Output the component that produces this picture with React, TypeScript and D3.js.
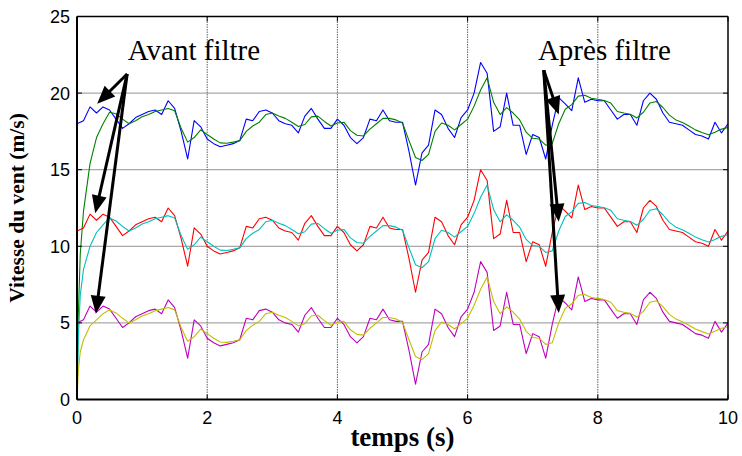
import React from "react";
import * as d3 from "d3";

// sampling times (s)
const timeRaw: number[] = d3.range(0, 101).map((i) => i / 10);
const timeFilt: number[] = [0, 0.02, 0.05, ...timeRaw.slice(1)];

// raw wind speeds ("Avant filtre")
const rawBlue = [18.0,18.2,19.1,18.7,19.1,18.9,18.3,17.7,18.0,18.4,18.6, 18.8,18.9,18.6,19.5,19.0,17.5,15.7,18.2,17.8,17.0, 16.7,16.5,16.6,16.7,16.9,18.3,18.2,18.8,18.9,18.7, 18.2,18.0,17.9,17.4,18.5,19.0,18.3,17.7,17.7,18.3, 17.9,17.1,16.7,17.1,18.3,18.2,18.9,18.2,18.1,18.1, 16.2,14.0,16.1,16.6,18.9,18.6,17.7,17.1,18.4,18.9, 20.0,22.0,21.3,17.5,17.8,20.0,17.9,17.9,16.0,17.3, 17.1,15.7,17.9,19.7,19.3,18.85,21.0,19.4,19.6,19.5, 19.5,18.9,18.3,18.6,18.6,17.9,19.5,20.0,19.6,18.7, 18.1,18.0,17.9,17.6,17.3,17.2,17.0,18.1,17.4,18.0];
const rawRed = [11.0,11.2,12.1,11.7,12.1,11.9,11.3,10.7,11.0,11.4,11.6, 11.8,11.9,11.6,12.5,12.0,10.5,8.7,11.2,10.8,10.0, 9.7,9.5,9.6,9.7,9.9,11.3,11.2,11.8,11.9,11.7, 11.2,11.0,10.9,10.4,11.5,12.0,11.3,10.7,10.7,11.3, 10.9,10.1,9.7,10.1,11.3,11.2,11.9,11.2,11.1,11.1, 9.2,7.0,9.1,9.6,11.9,11.6,10.7,10.1,11.4,11.9, 13.0,15.0,14.3,10.5,10.8,13.0,10.9,10.9,9.0,10.3, 10.1,8.7,10.9,12.7,12.3,11.85,14.0,12.4,12.6,12.5, 12.5,11.9,11.3,11.6,11.6,10.9,12.5,13.0,12.6,11.7, 11.1,11.0,10.9,10.6,10.3,10.2,10.0,11.1,10.4,11.0];
const rawMagenta = [5.0,5.2,6.1,5.7,6.1,5.9,5.3,4.7,5.0,5.4,5.6, 5.8,5.9,5.6,6.5,6.0,4.5,2.7,5.2,4.8,4.0, 3.7,3.5,3.6,3.7,3.9,5.3,5.2,5.8,5.9,5.7, 5.2,5.0,4.9,4.4,5.5,6.0,5.3,4.7,4.7,5.3, 4.9,4.1,3.7,4.1,5.3,5.2,5.9,5.2,5.1,5.1, 3.2,1.0,3.1,3.6,5.9,5.6,4.7,4.1,5.4,5.9, 7.0,9.0,8.3,4.5,4.8,7.0,4.9,4.9,3.0,4.3, 4.1,2.7,4.9,6.7,6.3,5.85,8.0,6.4,6.6,6.5, 6.5,5.9,5.3,5.6,5.6,4.9,6.5,7.0,6.6,5.7, 5.1,5.0,4.9,4.6,4.3,4.2,4.0,5.1,4.4,5.0];

// filtered wind speeds ("Après filtre")
const filtGreen = [0,5.5,9.5, 12.3,15.4,17.1,18.0,18.75,18.65,18.3,18.0,18.2,18.45, 18.6,18.8,18.9,19.0,18.85,17.7,16.8,17.1,17.6,17.3, 17.0,16.75,16.73,16.8,16.9,17.5,17.85,18.1,18.6,18.7, 18.5,18.35,18.1,17.82,17.95,18.45,18.5,18.15,17.85,18.05, 18.1,17.55,17.25,17.2,17.65,18.0,18.35,18.35,18.25,18.05, 16.9,15.8,15.6,16.0,17.5,18.05,17.9,17.6,17.95,18.3, 19.15,20.2,21.0,19.4,18.6,19.05,18.7,18.25,17.45,17.05, 17.0,16.6,16.7,18.0,18.95,19.25,19.8,19.86,19.66,19.6, 19.52,19.35,18.8,18.7,18.62,18.38,18.75,19.35,19.45,19.06, 18.56,18.25,18.08,17.85,17.6,17.43,17.28,17.45,17.65,17.75];
const filtCyan = [0,4.0,6.8, 8.5,10.0,10.9,11.4,11.85,11.65,11.3,11.0,11.2,11.45, 11.6,11.8,11.9,12.0,11.85,10.7,9.8,10.1,10.6,10.3, 10.0,9.75,9.73,9.8,9.9,10.5,10.85,11.1,11.6,11.7, 11.5,11.35,11.1,10.82,10.95,11.45,11.5,11.15,10.85,11.05, 11.1,10.55,10.25,10.2,10.65,11.0,11.35,11.35,11.25,11.05, 9.9,8.8,8.6,9.0,10.5,11.05,10.9,10.6,10.95,11.3, 12.15,13.2,14.0,12.4,11.6,12.05,11.7,11.25,10.45,10.05, 10.0,9.6,9.7,11.0,11.95,12.25,12.8,12.86,12.66,12.6, 12.52,12.35,11.8,11.7,11.62,11.38,11.75,12.35,12.45,12.06, 11.56,11.25,11.08,10.85,10.6,10.43,10.28,10.45,10.65,10.75];
const filtYellow = [0,1.9,3.1, 3.9,4.8,5.2,5.6,5.85,5.65,5.3,5.0,5.2,5.45, 5.6,5.8,5.9,6.0,5.85,4.7,3.8,4.1,4.6,4.3, 4.0,3.75,3.73,3.8,3.9,4.5,4.85,5.1,5.6,5.7, 5.5,5.35,5.1,4.82,4.95,5.45,5.5,5.15,4.85,5.05, 5.1,4.55,4.25,4.2,4.65,5.0,5.35,5.35,5.25,5.05, 3.9,2.8,2.6,3.0,4.5,5.05,4.9,4.6,4.95,5.3, 6.15,7.2,8.0,6.4,5.6,6.05,5.7,5.25,4.45,4.05, 4.0,3.6,3.7,5.0,5.95,6.25,6.8,6.86,6.66,6.6, 6.52,6.35,5.8,5.7,5.62,5.38,5.75,6.35,6.45,6.06, 5.56,5.25,5.08,4.85,4.6,4.43,4.28,4.45,4.65,4.75];

const xTicks = [0, 2, 4, 6, 8, 10];
const yTicks = [0, 5, 10, 15, 20, 25];

// annotations in data coordinates
const avantLabel = { text: "Avant filtre", t: 0.78, v: 22.15 };
const apresLabel = { text: "Après filtre", t: 7.08, v: 22.15 };
const avantTail = { t: 0.77, v: 21.25 };
const avantTips = [ { t: 0.31, v: 19.3 }, { t: 0.28, v: 12.15 }, { t: 0.29, v: 5.6 } ];
const apresTail = { t: 7.17, v: 21.5 };
const apresTips = [ { t: 7.4, v: 18.6 }, { t: 7.4, v: 11.6 }, { t: 7.4, v: 5.65 } ];

const W = 742, H = 456;

export default function App() {
  const x = d3.scaleLinear().domain([0, 10]).range([77, 728]);
  const y = d3.scaleLinear().domain([0, 25]).range([399.5, 16.5]);
  const mk = (ts: number[], vs: number[]) =>
    d3.line<number>().x((_, i) => x(ts[i])).y((v) => y(v))(vs) || "";

  const series = [
    { t: timeRaw, v: rawBlue, c: "#0000ff" },
    { t: timeFilt, v: filtGreen, c: "#008000" },
    { t: timeRaw, v: rawRed, c: "#ff0000" },
    { t: timeFilt, v: filtCyan, c: "#00bfbf" },
    { t: timeRaw, v: rawMagenta, c: "#bf00bf" },
    { t: timeFilt, v: filtYellow, c: "#bfbf00" },
  ];

  const arrow = (tail: { t: number; v: number }, tip: { t: number; v: number }, key: string) => {
    const x1 = x(tail.t), y1 = y(tail.v), x2 = x(tip.t), y2 = y(tip.v);
    const dx = x2 - x1, dy = y2 - y1, len = Math.hypot(dx, dy);
    const ux = dx / len, uy = dy / len, nx = -uy, ny = ux;
    const L = 18, w = 7.5;
    const bx = x2 - ux * L, by = y2 - uy * L;
    return (
      <g key={key}>
        <line x1={x1} y1={y1} x2={bx + ux * 2} y2={by + uy * 2} stroke="#000" strokeWidth={3} />
        <polygon points={`${x2},${y2} ${bx + nx * w},${by + ny * w} ${bx - nx * w},${by - ny * w}`} fill="#000" />
      </g>
    );
  };

  const [x0, x1] = x.range();
  const [y0, y1] = y.range();

  return (
    <svg width={W} height={H} style={{ position: "absolute", left: 0, top: 0, background: "#fff" }}>
      <rect x={0} y={0} width={W} height={H} fill="#fff" />
      {/* grid */}
      {yTicks.slice(1, -1).map((t) => (
        <line key={"gy" + t} x1={x0} x2={x1} y1={y(t)} y2={y(t)} stroke="#a8a8a8" strokeWidth={1.3} />
      ))}
      {xTicks.slice(1, -1).map((t) => (
        <line key={"gx" + t} x1={x(t)} x2={x(t)} y1={y1} y2={y0} stroke="#606060" strokeWidth={1} strokeDasharray="1.5,1" />
      ))}
      {/* series */}
      {series.map((s, i) => (
        <path key={i} d={mk(s.t, s.v)} fill="none" stroke={s.c} strokeWidth={1.1} strokeLinejoin="round" />
      ))}
      {/* axes box */}
      <line x1={x0} x2={x1} y1={y1} y2={y1} stroke="#000" strokeWidth={1.5} />
      <line x1={x1} x2={x1} y1={y1} y2={y0} stroke="#000" strokeWidth={1.5} />
      <line x1={x0} x2={x1} y1={y0} y2={y0} stroke="#000" strokeWidth={2} />
      <line x1={x0} x2={x0} y1={y1} y2={y0} stroke="#000" strokeWidth={2} />
      {/* ticks */}
      {xTicks.map((t) => (
        <g key={"tx" + t}>
          <line x1={x(t)} x2={x(t)} y1={y0} y2={y0 - 5} stroke="#000" strokeWidth={1} />
          <line x1={x(t)} x2={x(t)} y1={y1} y2={y1 + 5} stroke="#000" strokeWidth={1} />
          <text x={x(t)} y={y0 + 24} textAnchor="middle" fontFamily="Liberation Sans, Arial, sans-serif" fontSize={18} fill="#000">{t}</text>
        </g>
      ))}
      {yTicks.map((t) => (
        <g key={"ty" + t}>
          <line x1={x0} x2={x0 + 5} y1={y(t)} y2={y(t)} stroke="#000" strokeWidth={1} />
          <line x1={x1} x2={x1 - 5} y1={y(t)} y2={y(t)} stroke="#000" strokeWidth={1} />
          <text x={x0 - 7} y={y(t) + 6.5} textAnchor="end" fontFamily="Liberation Sans, Arial, sans-serif" fontSize={18} fill="#000">{t}</text>
        </g>
      ))}
      {/* axis labels */}
      <text x={(x0 + x1) / 2} y={446} textAnchor="middle" fontFamily="Liberation Serif, Times New Roman, serif" fontWeight="bold" fontSize={27} fill="#000">temps (s)</text>
      <text transform={`translate(24,${(y0 + y1) / 2}) rotate(-90)`} textAnchor="middle" fontFamily="Liberation Serif, Times New Roman, serif" fontWeight="bold" fontSize={21.5} fill="#000">Vitesse du vent (m/s)</text>
      {/* annotations */}
      <text x={x(avantLabel.t)} y={y(avantLabel.v)} fontFamily="Liberation Serif, Times New Roman, serif" fontSize={29} fill="#000">{avantLabel.text}</text>
      <text x={x(apresLabel.t)} y={y(apresLabel.v)} fontFamily="Liberation Serif, Times New Roman, serif" fontSize={29} fill="#000">{apresLabel.text}</text>
      {avantTips.map((tp, i) => arrow(avantTail, tp, "a" + i))}
      {apresTips.map((tp, i) => arrow(apresTail, tp, "p" + i))}
    </svg>
  );
}
